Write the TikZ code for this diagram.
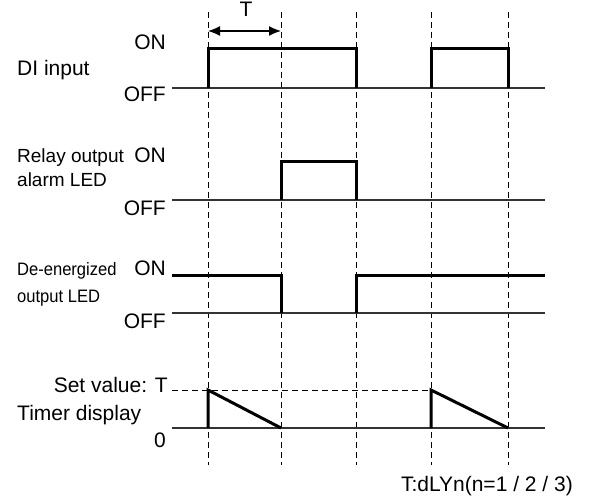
\documentclass[tikz,border=0pt]{standalone}
\usepackage{fontspec}
\setmainfont{Liberation Sans}
\usetikzlibrary{arrows.meta, positioning, calc}

\begin{document}
\begin{tikzpicture}[x=1pt, y=-1pt,
    every node/.style={font=\fontsize{21}{25}\selectfont, inner sep=0pt},
    smalltxt/.style={font=\fontsize{19}{23}\selectfont},
    tinytxt/.style={font=\fontsize{18}{21}\selectfont},
    axisline/.style={draw=black!80, line width=1.4pt},
    wave/.style={line width=3pt},
    guide/.style={dash pattern=on 6pt off 4pt, line width=0.9pt}]
        \useasboundingbox (0,0) rectangle (589,497);

        % ── Time marks (tops of the guides) ─────────────────────────────
        \foreach \x/\n in {208/t1, 281/t2, 356/t3, 431/t4, 508/t5}{
        	\coordinate (\n) at (\x, 12);
        }

        % ── Levels of each trace ────────────────────────────────────────
        \coordinate (di-on)  at (172, 49);
        \coordinate (di-off) at (172, 88);
        \coordinate (ry-on)  at (172,162);
        \coordinate (ry-off) at (172,200);
        \coordinate (de-on)  at (172,275);
        \coordinate (de-off) at (172,313);
        \coordinate (tm-set) at (172,390);
        \coordinate (tm-0)   at (172,428);

        % ── Dashed vertical guides ───────────────────────────────────────
        \foreach \n in {t1, t2, t3, t4, t5}{
        	\draw[guide] (\n) -- ++(0,453);
        }

        % ── OFF / zero lines ────────────────────────────────────────────
        \foreach \c in {di-off, ry-off, de-off, tm-0}{
        	\draw[axisline] (\c) -- ++(373,0);
        }

        % ── T span ──────────────────────────────────────────────────────
        \draw[{Latex[length=12pt,width=10pt]}-{Latex[length=12pt,width=10pt]}, line width=1.4pt]
        ($(t1)+(0,19)$) -- ($(t2)+(0,19)$);
        \node[anchor=base] (tspan) at (246,17) {T};

        % ── DI input ────────────────────────────────────────────────────
        \draw[wave] (t1 |- di-off) -- (t1 |- di-on) -- (t3 |- di-on) -- (t3 |- di-off);
        \draw[wave] (t4 |- di-off) -- (t4 |- di-on) -- (t5 |- di-on) -- (t5 |- di-off);
        \node[anchor=base west] (di-name) at (17,76) {DI input};
        \node[anchor=base east] (di-onlbl) at (166,50) {ON};
        \node[anchor=base east] (di-offlbl) at (166,102) {OFF};

        % ── Relay output / alarm LED ────────────────────────────────────
        \draw[wave] (t2 |- ry-off) -- (t2 |- ry-on) -- (t3 |- ry-on) -- (t3 |- ry-off);
        \node[smalltxt, anchor=base west] (ry-name) at (17,163) {Relay output};
        \node[smalltxt, anchor=base west] (ry-name2) at (17,187) {alarm LED};
        \node[anchor=base east] (ry-onlbl) at (166,163) {ON};
        \node[anchor=base east] (ry-offlbl) at (166,215) {OFF};

        % ── De-energized output LED ─────────────────────────────────────
        \draw[wave] (de-on) -- (t2 |- de-on) -- (t2 |- de-off);
        \draw[wave] (t3 |- de-off) -- (t3 |- de-on) -- ++(189,0);
        \node[tinytxt, anchor=base west, xscale=0.92] (de-name) at (17,276) {De-energized};
        \node[tinytxt, anchor=base west, xscale=0.92] (de-name2) at (17,302) {output LED};
        \node[anchor=base east] (de-onlbl) at (166,276) {ON};
        \node[anchor=base east] (de-offlbl) at (166,328) {OFF};

        % ── Timer display ───────────────────────────────────────────────
        \draw[guide] (tm-set) -- (t4 |- tm-set);
        \draw[wave] (t1 |- tm-0) -- (t1 |- tm-set) -- (t2 |- tm-0);
        \draw[wave] (t4 |- tm-0) -- (t4 |- tm-set) -- (t5 |- tm-0);
        \node[anchor=base east] (tm-setlbl) at (168,392) {Set value: T};
        \node[anchor=base west] (tm-name) at (17,420) {Timer display};
        \node[anchor=base east] (tm-0lbl) at (166,447) {0};

        % ── Note ────────────────────────────────────────────────────────
        \node[anchor=base east] (note) at (573,491) {T:dLYn(n=1 / 2 / 3)};
      \end{tikzpicture}
\end{document}
